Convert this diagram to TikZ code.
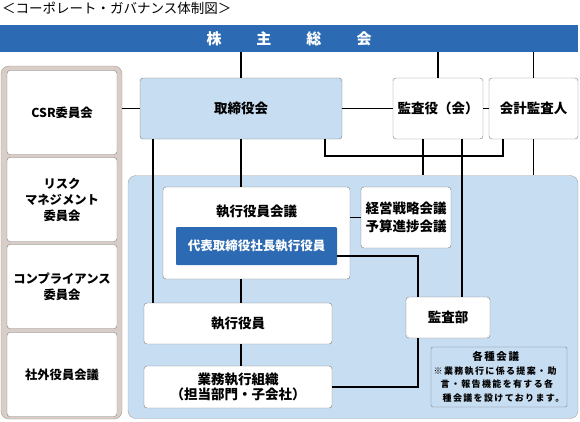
\documentclass[tikz,border=0pt]{standalone}
\usepackage{fontspec}
\setmainfont{Noto Sans CJK JP}
\definecolor{darkblue}{RGB}{44,107,179}
\definecolor{lightblue}{RGB}{199,221,242}
\definecolor{taupe}{RGB}{216,206,199}
\definecolor{taupedark}{RGB}{165,153,145}
\definecolor{boxgray}{RGB}{125,125,125}
\tikzset{
	box/.style={draw=boxgray, fill=white, rounded corners=3pt, inner sep=0pt, align=center,
		font=\bfseries\fontsize{13.5}{18}\selectfont},
	leftbox/.style={box, minimum width=110, minimum height=84,
		font=\bfseries\fontsize{12.3}{16}\selectfont},
	link/.style={line width=1.8pt, black}
}
\begin{document}
\begin{tikzpicture}[x=1pt, y=-1pt]
	\useasboundingbox (0,0) rectangle (580,421);
	\node (title) [anchor=west, inner sep=0pt, font=\fontsize{13.5}{16}\selectfont] at (2,8) {＜コーポレート・ガバナンス体制図＞};
	\node (soukai) [fill=darkblue, inner sep=0pt, minimum width=578, minimum height=27, text=white,
		font=\bfseries\fontsize{15}{18}\selectfont] at (289,38.5) {株\hspace{35pt}主\hspace{35pt}総\hspace{35pt}会};
	% left committees
	\node (iinkai) [fill=taupe, draw=taupedark, rounded corners=8pt, minimum width=121, minimum height=353] at (61.5,242.5) {};
	\node (csr) [leftbox] at (62,112.5) {CSR委員会};
	\node (risk) [leftbox] at (62,199.5) {リスク\\マネジメント\\委員会};
	\node (comp) [leftbox] at (62,286.5) {コンプライアンス\\委員会};
	\node (shagai) [leftbox] at (62,374.5) {社外役員会議};
	% board and auditors
	\node (tori) [box, fill=lightblue, minimum width=202, minimum height=61] at (241,108.5) {取締役会};
	\node (kansayaku) [box, minimum width=90, minimum height=61] at (438,108.5) {監査役（会）};
	\node (kaikei) [box, minimum width=89, minimum height=61] at (533.5,108.5) {会計監査人};
	% execution
	\node (shikko) [fill=lightblue, draw=boxgray!70, rounded corners=8pt, minimum width=450, minimum height=243] at (353,297) {};
	\node (kaigi) [box, minimum width=187, minimum height=92] at (256.5,233) {};
	\node (kaigititle) [inner sep=0pt, font=\bfseries\fontsize{13.5}{18}\selectfont] at (256.5,212) {執行役員会議};
	\node (daihyo) [fill=darkblue, text=white, rounded corners=1pt, inner sep=0pt, minimum width=161, minimum height=38,
		font=\bfseries\fontsize{12.5}{16}\selectfont] at (256.5,246) {代表取締役社長執行役員};
	\node (keiei) [box, minimum width=90, minimum height=61] at (406,217.5) {経営戦略会議\\予算進捗会議};
	\node (kansabu) [box, minimum width=84, minimum height=41] at (448,317.5) {監査部};
	\node (yakuin) [box, minimum width=188, minimum height=41] at (238,323.5) {執行役員};
	\node (gyomu) [box, minimum width=188, minimum height=42, font=\bfseries\fontsize{13.5}{15.5}\selectfont] at (238,387) {業務執行組織\\（担当部門・子会社）};
	\node (kakushu) [draw=boxgray, fill=lightblue, rounded corners=2pt, inner sep=0pt, minimum width=136, minimum height=60,
		align=left, font=\bfseries\fontsize{9}{13.5}\selectfont\addfontfeature{LetterSpace=15}] at (499,377)
		{\makebox[124pt]{\fontsize{10.5}{13.5}\selectfont 各種会議}\\
		※業務執行に係る提案・助\\
		\hspace{7pt}言・報告機能を有する各\\
		\hspace{9pt}種会議を設けております。};
	% connectors
	\draw[link] (tori.north) -- (tori.north |- soukai.south);
	\draw[link] (kansayaku.north) -- (kansayaku.north |- soukai.south);
	\draw[link] (kaikei.north) -- (kaikei.north |- soukai.south);
	\draw[link] (tori.west) -- (tori.west -| iinkai.east);
	\draw[link] (tori.east) -- (kansayaku.west);
	\draw[link] (kansayaku.east) -- (kaikei.west);
	\coordinate (c1) at (400,156);
	\draw[link] ([xshift=84pt]tori.south) |- (c1) -| ([xshift=-30.5pt]kaikei.south);
	\draw[link] ([xshift=-15pt]kansayaku.south) -- ([xshift=-15pt]kansayaku.south |- shikko.north);
	\draw[link] ([xshift=24pt]kansayaku.south) -- ([xshift=24pt]kansayaku.south |- kansabu.north);
	\draw[link] (kaikei.south) -- (kaikei.south |- shikko.north);
	\draw[link] ([xshift=-88pt]tori.south) -- ([xshift=-88pt]tori.south |- yakuin.north);
	\draw[link] (tori.south) -- (tori.south |- kaigi.north);
	\draw[link] (keiei.west) -- (keiei.west -| kaigi.east);
	\draw[link] ([yshift=-10pt]daihyo.east) -| ([xshift=-30pt]kansabu.north);
	\draw[link] (tori.south |- kaigi.south) -- (tori.south |- yakuin.north);
	\draw[link] (tori.south |- yakuin.south) -- (tori.south |- gyomu.north);
	\draw[link] ([xshift=-30pt]kansabu.south) |- (gyomu.east);
\end{tikzpicture}
\end{document}
